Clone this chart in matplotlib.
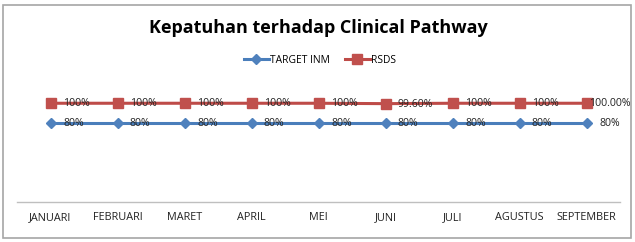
import matplotlib.pyplot as plt
from matplotlib.patches import Rectangle

# data
months = ["JANUARI", "FEBRUARI", "MARET", "APRIL", "MEI", "JUNI", "JULI", "AGUSTUS", "SEPTEMBER"]
target_inm = [0.80, 0.80, 0.80, 0.80, 0.80, 0.80, 0.80, 0.80, 0.80]
rsds = [1.00, 1.00, 1.00, 1.00, 1.00, 0.996, 1.00, 1.00, 1.00]
target_labels = ["80%"] * 9
rsds_labels = ["100%", "100%", "100%", "100%", "100%", "99.60%", "100%", "100%", "100.00%"]

W, H = 635, 242
fig = plt.figure(figsize=(W / 100, H / 100), dpi=100)
plt.rcParams['font.family'] = ['Open Sans', 'DejaVu Sans']

# outer border of the chart
fig.patches.append(Rectangle((3 / W, 4 / H), 628 / W, 233 / H, transform=fig.transFigure,
                             fill=False, edgecolor="#a6a6a6", linewidth=1.2))

ax = fig.add_axes([17 / W, (H - 202) / H, 603 / W, 118.5 / H])
x = list(range(len(months)))

ax.plot(x, target_inm, color="#4a7ebb", linewidth=2.2, marker="D", markersize=5,
        markerfacecolor="#4f81bd", markeredgecolor="#4f81bd", label="TARGET INM")
ax.plot(x, rsds, color="#be4b48", linewidth=2.2, marker="s", markersize=6.5,
        markerfacecolor="#c0504d", markeredgecolor="#c0504d", label="RSDS")

for i in x:
    # last red label is pushed left by excel so it stays inside the chart
    dx = 1.5 if i == len(x) - 1 else 9
    ax.annotate(rsds_labels[i], (i, rsds[i]), xytext=(dx, -0.5), textcoords="offset points",
                va="center", ha="left", fontsize=7.6, color="#222222")
    ax.annotate(target_labels[i], (i, target_inm[i]), xytext=(9, -0.5), textcoords="offset points",
                va="center", ha="left", fontsize=7.6, color="#222222")

ax.set_xlim(-0.5, len(months) - 0.5)
ax.set_ylim(0, 1.2)
ax.set_xticks(x)
ax.set_xticklabels(months, fontsize=7.8, color="#222222")
ax.tick_params(axis="x", length=0, pad=7)
ax.set_yticks([])
for s in ["top", "right", "left"]:
    ax.spines[s].set_visible(False)
ax.spines["bottom"].set_color("#bfbfbf")
ax.spines["bottom"].set_linewidth(1)

fig.text(318 / W, 1 - 28 / H, "Kepatuhan terhadap Clinical Pathway", ha="center", va="center",
         fontsize=13, fontweight="bold", color="black")

fig.legend(loc="center", bbox_to_anchor=(320 / W, 1 - 60 / H), ncol=2, frameon=False,
           fontsize=7.4, handlelength=2.4, columnspacing=1.5, handletextpad=0.1)

fig.savefig("out.png", dpi=100)
